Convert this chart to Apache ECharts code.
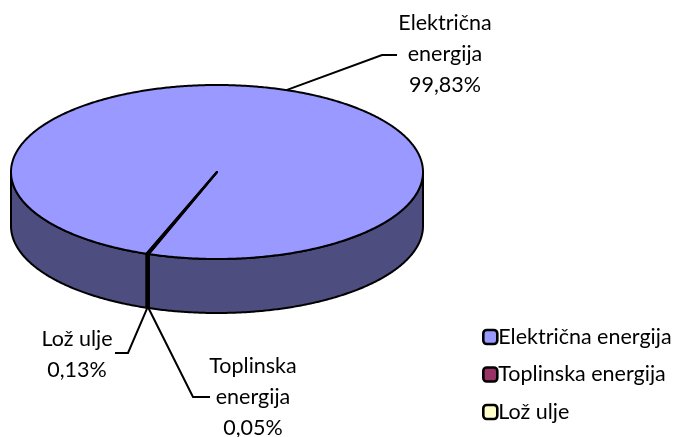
<!DOCTYPE html>
<html>
<head>
<meta charset="utf-8">
<script src="https://cdn.jsdelivr.net/npm/echarts@6/dist/echarts.min.js"></script>
<style>
  html, body { margin: 0; padding: 0; background: #fff; }
  #chart { width: 675px; height: 437px; }
</style>
</head>
<body>
<div id="chart"></div>
<script>
// podaci
const categories = ['Električna energija', 'Toplinska energija', 'Lož ulje'];
const shares = [99.83, 0.05, 0.13];
const labelNames = ['Električna\nenergija', 'Toplinska\nenergija', 'Lož ulje'];

// boje (gornja ploha / bočna stijenka)
const topColors = ['#9999FF', '#993366', '#FFFFCC'];
const sideColors = ['#4D4D80', '#4D1A33', '#808066'];

// geometrija "3D" pite
const CX = 217, CY = 172, RX = 206, RY = 87, DEPTH = 54;
const START = 110.0;
const FONT = 'Lato, sans-serif';
const FONT_SIZE = 21.5;

// polozaj oznaka (rucno kao u Excelu)
const labelLayout = [
  { x: 445, y: 54, elbow: [382, 55], end: [397, 55] },
  { x: 253, y: 397, elbow: [193, 397], end: [210, 397] },
  { x: 77, y: 355, elbow: [128, 353], end: [115, 353] }
];

const total = shares.reduce((a, b) => a + b, 0);

function pt(deg, dy) {
  const r = deg * Math.PI / 180;
  return [CX + RX * Math.cos(r), CY + RY * Math.sin(r) + (dy || 0)];
}

function arc(a0, a1, dy) {
  const pts = [];
  const n = Math.max(2, Math.ceil(Math.abs(a1 - a0) / 0.5));
  for (let k = 0; k <= n; k++) {
    pts.push(pt(a0 + (a1 - a0) * k / n, dy));
  }
  return pts;
}

function fmt(v) {
  return v.toFixed(2).replace('.', ',') + '%';
}

function makeRender(i) {
  return function (params, api) {
    const value = api.value(0);
    let before = 0;
    for (let k = 0; k < i; k++) before += shares[k];
    const a0 = START + before / total * 360;
    const a1 = a0 + value / total * 360;

    const children = [];

    // bocne stijenke - samo prednja polovica (0..180)
    for (let k = 0; k < 3; k++) {
      const s = Math.max(a0, k * 360);
      const e = Math.min(a1, k * 360 + 180);
      if (e > s) {
        const top = arc(s, e, 0);
        const bottom = arc(s, e, DEPTH).reverse();
        children.push({
          type: 'polygon',
          shape: { points: top.concat(bottom) },
          style: { fill: sideColors[i], stroke: '#000', lineWidth: 2, lineJoin: 'round' }
        });
      }
    }

    // gornja ploha
    children.push({
      type: 'polygon',
      shape: { points: [[CX, CY]].concat(arc(a0, a1, 0)) },
      style: { fill: topColors[i], stroke: '#000', lineWidth: 2, lineJoin: 'round' }
    });

    // oznaka s linijom
    const mid = (a0 + a1) / 2;
    const front = Math.sin(mid * Math.PI / 180) > 0;
    const anchor = pt(mid, front ? DEPTH : 0);
    const lay = labelLayout[i];
    children.push({
      type: 'polyline',
      shape: { points: [anchor, lay.elbow, lay.end] },
      style: { stroke: '#000', lineWidth: 2, fill: null }
    });
    children.push({
      type: 'text',
      style: {
        text: labelNames[i] + '\n' + fmt(value),
        x: lay.x,
        y: lay.y,
        align: 'center',
        verticalAlign: 'middle',
        fontFamily: FONT,
        fontSize: FONT_SIZE,
        lineHeight: 31,
        fill: '#000'
      }
    });

    return { type: 'group', children };
  };
}

const chart = echarts.init(document.getElementById('chart'));

chart.setOption({
  animation: false,
  legend: {
    orient: 'vertical',
    left: 477,
    top: 321,
    icon: 'roundRect',
    itemWidth: 14,
    itemHeight: 14,
    itemGap: 15.5,
    textStyle: { fontFamily: FONT, fontSize: FONT_SIZE, color: '#000', padding: [0, 0, 0, -4] },
    data: categories.map((name, i) => ({
      name,
      itemStyle: { color: topColors[i], borderColor: '#000', borderWidth: 2.6 }
    }))
  },
  series: categories.map((name, i) => ({
    type: 'custom',
    name,
    coordinateSystem: 'none',
    itemStyle: { color: topColors[i], borderColor: '#000', borderWidth: 2.6 },
    data: [[shares[i]]],
    renderItem: makeRender(i)
  }))
});
</script>
</body>
</html>
